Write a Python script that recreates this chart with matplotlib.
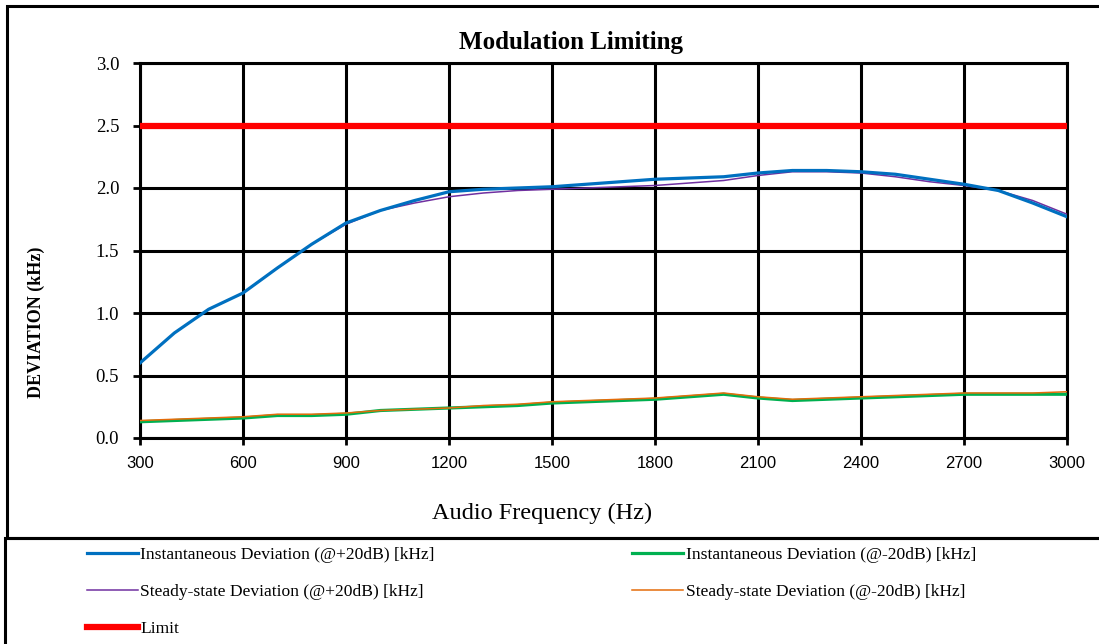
import matplotlib
matplotlib.use("Agg")
import matplotlib.pyplot as plt
from matplotlib.patches import Rectangle

# ---- data ----
freq = [300, 400, 500, 600, 700, 800, 900, 1000, 1100, 1200, 1300, 1400, 1500,
        1600, 1700, 1800, 1900, 2000, 2100, 2200, 2300, 2400, 2500, 2600, 2700,
        2800, 2900, 3000]
inst_pos = [0.60, 0.84, 1.03, 1.16, 1.36, 1.55, 1.72, 1.82, 1.90, 1.97, 1.99, 2.00, 2.01,
            2.03, 2.05, 2.07, 2.08, 2.09, 2.12, 2.14, 2.14, 2.13, 2.11, 2.07, 2.03,
            1.98, 1.88, 1.77]
steady_pos = [0.60, 0.84, 1.03, 1.16, 1.36, 1.55, 1.71, 1.82, 1.88, 1.93, 1.96, 1.98, 1.99,
              2.00, 2.01, 2.02, 2.04, 2.06, 2.10, 2.13, 2.13, 2.12, 2.09, 2.05, 2.02,
              1.98, 1.90, 1.79]
inst_neg = [0.13, 0.14, 0.15, 0.16, 0.18, 0.18, 0.19, 0.22, 0.23, 0.24, 0.25, 0.26, 0.28,
            0.29, 0.30, 0.31, 0.33, 0.35, 0.32, 0.30, 0.31, 0.32, 0.33, 0.34, 0.35,
            0.35, 0.35, 0.35]
steady_neg = [0.14, 0.15, 0.16, 0.17, 0.19, 0.19, 0.20, 0.22, 0.23, 0.24, 0.26, 0.27, 0.29,
              0.30, 0.31, 0.32, 0.34, 0.36, 0.33, 0.31, 0.32, 0.33, 0.34, 0.35, 0.36,
              0.36, 0.36, 0.37]
limit = [2.5] * len(freq)

labels = ["Instantaneous Deviation (@+20dB) [kHz]",
          "Instantaneous Deviation (@-20dB) [kHz]",
          "Steady-state Deviation (@+20dB) [kHz]",
          "Steady-state Deviation (@-20dB) [kHz]",
          "Limit"]
xticks = [300, 600, 900, 1200, 1500, 1800, 2100, 2400, 2700, 3000]
yticks = [0.0, 0.5, 1.0, 1.5, 2.0, 2.5, 3.0]

SERIF = ["Liberation Serif", "DejaVu Serif"]
SANS = ["Liberation Sans", "DejaVu Sans"]

fig = plt.figure(figsize=(10.99, 6.44), dpi=100)
W, H = 1099, 644

def fx(px):
    return px / W

def fy(py):
    return 1 - py / H

ax = fig.add_axes([fx(140), fy(438), fx(1067) - fx(140), fy(63) - fy(438)])

l1, = ax.plot(freq, inst_pos, color="#0070C0", lw=2.3, zorder=4)
l2, = ax.plot(freq, inst_neg, color="#00B050", lw=2.3, zorder=3)
l3, = ax.plot(freq, steady_pos, color="#7030A0", lw=1.1, zorder=3)
l4, = ax.plot(freq, steady_neg, color="#E46C0A", lw=1.1, zorder=4)
l5, = ax.plot(freq, limit, color="#FF0000", lw=4.5, zorder=5)

ax.set_xlim(300, 3000)
ax.set_ylim(0, 3.0)
ax.set_xticks(xticks)
ax.set_yticks(yticks)
ax.set_xticklabels([str(t) for t in xticks], family=SANS, fontsize=12)
ax.set_yticklabels([f"{t:.1f}" for t in yticks], family=SERIF, fontsize=13.5)
ax.grid(True, color="black", lw=2.2, zorder=1)
for s in ax.spines.values():
    s.set_color("black")
    s.set_linewidth(2.2)
ax.tick_params(axis="both", direction="out", length=5, width=2, color="black")
ax.tick_params(axis="x", pad=8)
ax.tick_params(axis="y", pad=10)

fig.text(fx(571), fy(43), "Modulation Limiting", family=SERIF, fontweight="bold",
         fontsize=18, ha="center", va="center")
fig.text(fx(542), fy(513), "Audio Frequency (Hz)", family=SERIF,
         fontsize=17.5, ha="center", va="center")
fig.text(fx(36), fy(322), "DEVIATION (kHz)", family=SERIF, fontweight="bold",
         fontsize=13, ha="center", va="center", rotation=90)

# borders
fig.patches.append(Rectangle((fx(7), fy(538)), 1.2, fy(6) - fy(538), transform=fig.transFigure,
                             fill=False, edgecolor="black", lw=2.2))
fig.patches.append(Rectangle((fx(5), fy(700)), 1.2, fy(538) - fy(700), transform=fig.transFigure,
                             fill=False, edgecolor="black", lw=2.2))

handles = [l1, l3, l5, l2, l4]
hl = [labels[0], labels[2], labels[4], labels[1], labels[3]]
fig.legend(handles, hl, ncol=2, loc="upper left",
           bbox_to_anchor=(fx(78), fy(538)), frameon=False, borderpad=0,
           prop={"family": SERIF, "size": 12.6},
           handlelength=2.9, handletextpad=0.15, columnspacing=11.3,
           labelspacing=1.18)

fig.savefig("out.png", dpi=100)
